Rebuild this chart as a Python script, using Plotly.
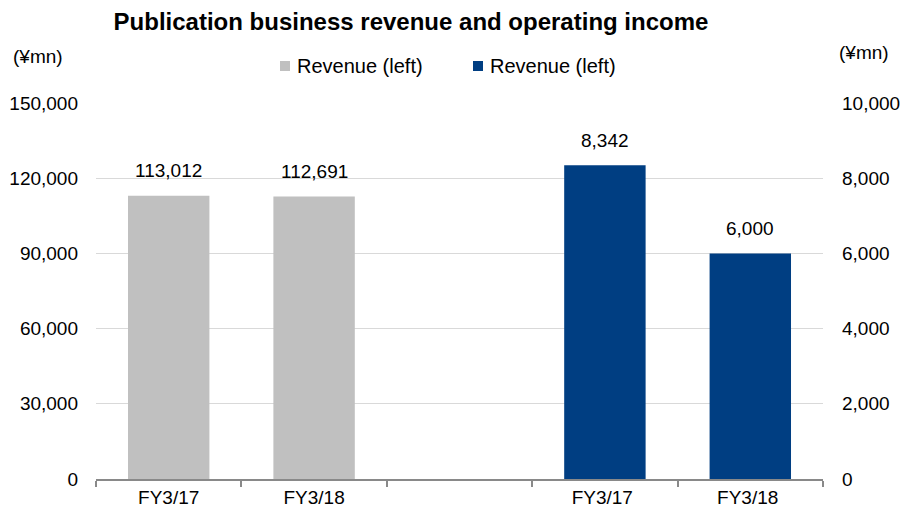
import plotly.graph_objects as go

categories = ["FY3/17", "FY3/18", " ", "FY3/17 ", "FY3/18 "]
revenue_cats = ["FY3/17", "FY3/18"]
revenue_vals = [113012, 112691]
income_cats = ["FY3/17 ", "FY3/18 "]
income_vals = [8342, 6000]
legend_names = ["Revenue (left)", "Revenue (left)"]
left_ticks = [0, 30000, 60000, 90000, 120000, 150000]
right_ticks = [0, 2000, 4000, 6000, 8000, 10000]

FONT = "Liberation Sans"
GRAY = "#c0c0c0"
NAVY = "#003e82"
FS = 19

plot_l, plot_r, plot_t, plot_b = 96, 823, 103, 479


def px(xp, yp):
    return (xp - plot_l) / (plot_r - plot_l), (plot_b - yp) / (plot_b - plot_t)


fig = go.Figure()
fig.add_trace(go.Bar(x=revenue_cats, y=revenue_vals, name=legend_names[0],
                     marker=dict(color=GRAY, line=dict(width=0)), width=0.56, yaxis="y"))
fig.add_trace(go.Bar(x=income_cats, y=income_vals, name=legend_names[1],
                     marker=dict(color=NAVY, line=dict(width=0)), width=0.56, yaxis="y2"))

annotations = []
for c, v in zip(revenue_cats, revenue_vals):
    annotations.append(dict(x=c, y=v, xref="x", yref="y", text=f"{v:,}", showarrow=False,
                            yanchor="middle", yshift=25, font=dict(size=FS, color="#000", family=FONT)))
for c, v in zip(income_cats, income_vals):
    annotations.append(dict(x=c, y=v, xref="x", yref="y2", text=f"{v:,}", showarrow=False,
                            yanchor="middle", yshift=25, font=dict(size=FS, color="#000", family=FONT)))
ux, uy = px(38, 57)
annotations.append(dict(x=ux, y=uy, xref="paper", yref="paper", text="(¥mn)", showarrow=False,
                        xanchor="center", yanchor="middle", font=dict(size=19, family=FONT)))
ux, uy = px(864, 53)
annotations.append(dict(x=ux, y=uy, xref="paper", yref="paper", text="(¥mn)", showarrow=False,
                        xanchor="center", yanchor="middle", font=dict(size=19, family=FONT)))

# custom legend (square swatch + label) to match the reference spacing
shapes = []
legend_items = [(legend_names[0], GRAY, 280), (legend_names[1], NAVY, 473)]
for name, color, sx in legend_items:
    x0, y0 = px(sx, 71)
    x1, y1 = px(sx + 10, 61)
    shapes.append(dict(type="rect", xref="paper", yref="paper", x0=x0, x1=x1, y0=y0, y1=y1,
                       fillcolor=color, line=dict(width=0)))
    tx, ty = px(sx + 15, 66)
    annotations.append(dict(x=tx, y=ty, xref="paper", yref="paper", text=name, showarrow=False,
                            xanchor="left", yanchor="middle", font=dict(size=FS + 1, family=FONT)))

fig.update_layout(
    width=901, height=514,
    margin=dict(l=plot_l, r=901 - plot_r, t=plot_t, b=514 - plot_b),
    paper_bgcolor="white", plot_bgcolor="white",
    barmode="overlay",
    showlegend=False,
    font=dict(family=FONT, size=FS, color="#000"),
    title=dict(text="<b>Publication business revenue and operating income</b>",
               x=411 / 901, xref="container", xanchor="center",
               y=1 - 22 / 514, yref="container", yanchor="middle",
               font=dict(size=24, family=FONT, color="#000")),
    annotations=annotations,
    shapes=shapes,
    xaxis=dict(type="category", categoryorder="array", categoryarray=categories,
               tickson="boundaries", ticks="outside", ticklen=6, tickcolor="#898989",
               tickwidth=2, showline=True, linecolor="#898989", linewidth=2, showgrid=False,
               automargin=False, tickfont=dict(size=FS, family=FONT)),
    yaxis=dict(range=[0, 150000], tickvals=left_ticks, tickformat=",",
               showgrid=True, gridcolor="#d9d9d9", gridwidth=1, zeroline=False,
               showline=False, ticks="", ticklabelstandoff=17, automargin=False,
               tickfont=dict(size=FS, family=FONT)),
    yaxis2=dict(range=[0, 10000], tickvals=right_ticks, tickformat=",",
                overlaying="y", side="right", showgrid=False, zeroline=False,
                showline=False, ticks="", ticklabelstandoff=18, automargin=False,
                tickfont=dict(size=FS, family=FONT)),
)

fig.write_html("out.html")
